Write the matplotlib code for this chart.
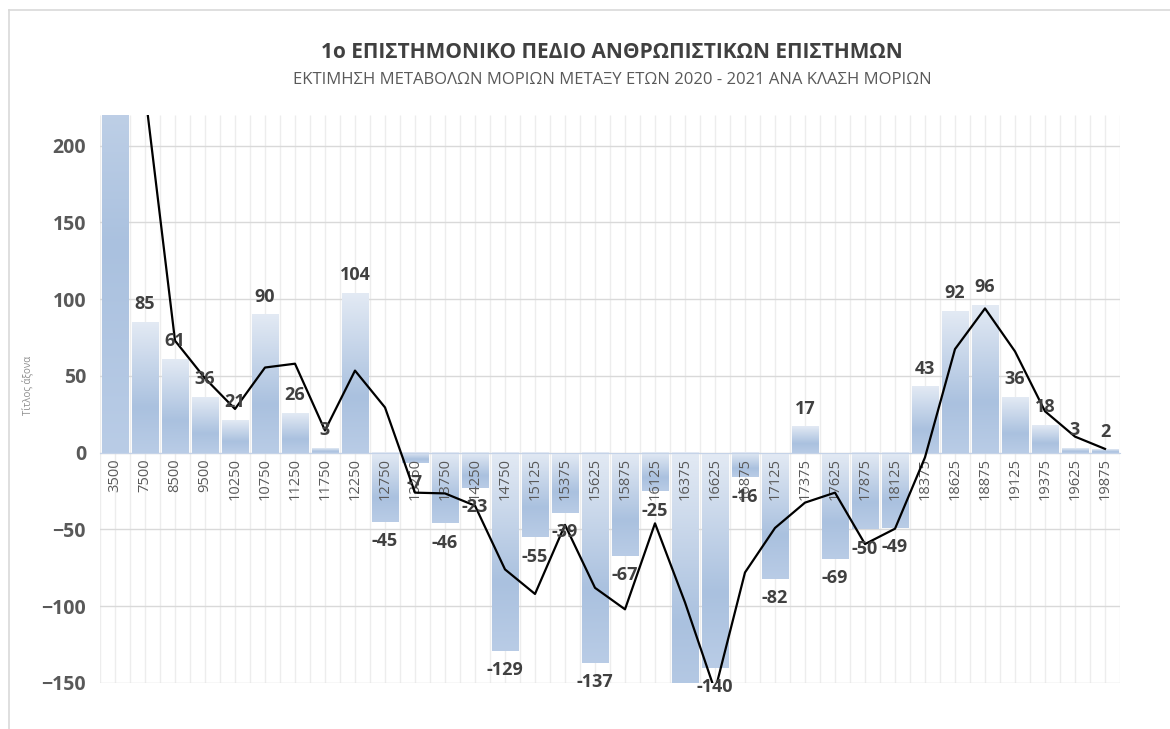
import matplotlib
matplotlib.use("Agg")
import matplotlib.pyplot as plt
import numpy as np
import pandas as pd
from matplotlib.colors import LinearSegmentedColormap
from matplotlib.lines import Line2D

plt.rcParams['font.family'] = ['Open Sans', 'DejaVu Sans']

# Κλάσεις μορίων και μεταβολές
categories = ['3500', '7500', '8500', '9500', '10250', '10750', '11250', '11750',
              '12250', '12750', '13250', '13750', '14250', '14750', '15125', '15375',
              '15625', '15875', '16125', '16375', '16625', '16875', '17125', '17375',
              '17625', '17875', '18125', '18375', '18625', '18875', '19125', '19375',
              '19625', '19875']
changes = [385, 85, 61, 36, 21, 90, 26, 3,
           104, -45, -7, -46, -23, -129, -55, -39,
           -137, -67, -25, -170, -140, -16, -82, 17,
           -69, -50, -49, 43, 92, 96, 36, 18,
           3, 2]
y_ticks = [-150, -100, -50, 0, 50, 100, 150, 200]

title = '1ο ΕΠΙΣΤΗΜΟΝΙΚΟ ΠΕΔΙΟ ΑΝΘΡΩΠΙΣΤΙΚΩΝ ΕΠΙΣΤΗΜΩΝ'
subtitle = 'ΕΚΤΙΜΗΣΗ ΜΕΤΑΒΟΛΩΝ ΜΟΡΙΩΝ ΜΕΤΑΞΥ ΕΤΩΝ 2020 - 2021 ΑΝΑ ΚΛΑΣΗ ΜΟΡΙΩΝ'

df = pd.DataFrame({'cat': categories, 'val': changes})
df['trend'] = df['val'].rolling(2).mean()  # κινητός μέσος όρος 2 περιόδων
x = np.arange(len(df))

fig = plt.figure(figsize=(11.7, 7.29), dpi=100)
ax = fig.add_axes([100 / 1170, 46 / 729, 1020 / 1170, 568 / 729])

# ο άξονας x περνά από το μηδέν (πριν ρυθμιστούν οι ετικέτες)
for s in ['top', 'right', 'left']:
    ax.spines[s].set_visible(False)
ax.spines['bottom'].set_position(('data', 0))
ax.spines['bottom'].set_color('#c5d3e8')

ymin, ymax = -150, 220
grad = LinearSegmentedColormap.from_list(
    'bar', [(0, '#e3eaf4'), (0.65, '#aac1df'), (1, '#b9cce6')])
img = np.linspace(0, 1, 256).reshape(-1, 1)

bars = ax.bar(x, df['val'], width=0.87, color='none', edgecolor='none', zorder=2)
for b in bars:
    l, bt, w, h = b.get_x(), b.get_y(), b.get_width(), b.get_height()
    lo, hi = min(bt, bt + h), max(bt, bt + h)
    ax.imshow(img, cmap=grad, extent=(l, l + w, lo, hi), origin='upper',
              aspect='auto', zorder=2, interpolation='bilinear')

ax.plot(x, df['trend'], color='black', lw=1.6, zorder=4)

for xi, v in zip(x, df['val']):
    if ymin <= v <= ymax:
        off = 13 if v >= 0 else -14
        ax.annotate(str(v), (xi, v), xytext=(0, off), textcoords='offset points',
                    ha='center', va='center', fontsize=13, fontweight='bold',
                    color='#404040', zorder=5)

# κάθετες βοηθητικές γραμμές κάθε μισή κατηγορία, πίσω από τις ράβδους
ax.vlines(np.arange(-0.5, len(df), 0.5), ymin, ymax, color='#ededed', lw=1, zorder=0.3)

ax.set_xlim(-0.5, len(df) - 0.5)
ax.set_ylim(ymin, ymax)
ax.set_yticks(y_ticks)
ax.set_xticks(x)
ax.set_xticklabels(df['cat'], fontsize=10.5, color='#595959')
ax.tick_params(axis='x', length=0, pad=4, labelrotation=90)
ax.tick_params(axis='y', length=0, pad=10, labelsize=14, labelcolor='#595959')
for t in ax.get_yticklabels():
    t.set_fontweight('bold')

ax.grid(axis='y', color='#d9d9d9', lw=1)
ax.yaxis.set_zorder(0.5)
ax.xaxis.set_zorder(3)  # ετικέτες κατηγοριών πάνω από τις ράβδους

fig.text(27 / 1170, 1 - 385 / 729, 'Τίτλος άξονα', rotation=90, fontsize=7,
         color='#8c8c8c', ha='center', va='center')
fig.text(0.523, 1 - 52 / 729, title, ha='center', va='center', fontsize=15,
         fontweight='bold', color='#404040')
fig.text(0.523, 1 - 80 / 729, subtitle, ha='center', va='center', fontsize=12,
         color='#595959')

# πλαίσιο γραφήματος
fig.add_artist(Line2D([9 / 1170, 1], [1 - 9.5 / 729] * 2, color='#d9d9d9', lw=1.2))
fig.add_artist(Line2D([9 / 1170] * 2, [0, 1 - 9.5 / 729], color='#d9d9d9', lw=1.2))

fig.savefig('out.png', dpi=100)
